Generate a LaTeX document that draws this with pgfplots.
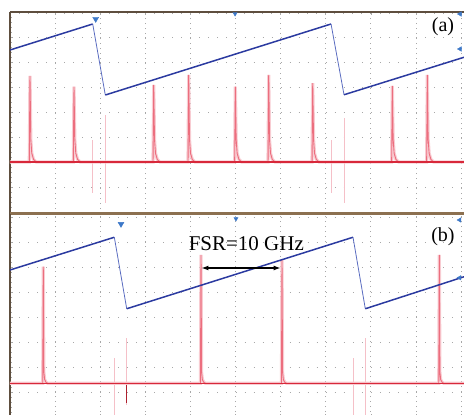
\documentclass[border=0pt]{standalone}
\usepackage{fontspec}
\setmainfont{Liberation Serif}
\usepackage{pgfplots}
\pgfplotsset{compat=1.18}
\usepackage{pgfplotstable}
\usetikzlibrary{arrows.meta}

\definecolor{traceblue}{HTML}{2B3AA0}
\definecolor{fallblue}{HTML}{5A6CC0}
\definecolor{tracered}{HTML}{D8283A}
\definecolor{peakpink}{HTML}{EC6E7E}
\definecolor{halopink}{HTML}{F8CCD2}
\definecolor{spikepink}{HTML}{F5C0C8}
\definecolor{gridgray}{HTML}{A8A8A8}
\definecolor{framebrown}{HTML}{5E4E3E}
\definecolor{dividerbrown}{HTML}{8C7050}
\definecolor{markerblue}{HTML}{3C78C8}

% screen units: 1 div = 45.1 px across, 25 px down
% (a) red trace, cavity transmission
\pgfplotstableread{
x      y
0      2.0
0.428  2.0
0.443  5.44
0.461  2.9
0.483  2.35
0.523  2.1
0.583  2.0
1.404  2.0
1.419  5.01
1.437  2.9
1.459  2.35
1.499  2.1
1.559  2.0
3.171  2.0
3.186  5.08
3.204  2.9
3.226  2.35
3.266  2.1
3.326  2.0
3.947  2.0
3.962  5.48
3.980  2.9
4.002  2.35
4.042  2.1
4.102  2.0
4.981  2.0
4.996  5.01
5.014  2.9
5.036  2.35
5.076  2.1
5.136  2.0
5.721  2.0
5.736  5.48
5.754  2.9
5.776  2.35
5.816  2.1
5.876  2.0
6.697  2.0
6.712  5.15
6.730  2.9
6.752  2.35
6.792  2.1
6.852  2.0
8.462  2.0
8.477  5.04
8.495  2.9
8.517  2.35
8.557  2.1
8.617  2.0
9.238  2.0
9.253  5.48
9.271  2.9
9.293  2.35
9.333  2.1
9.393  2.0
10.07  2.0
}\redA

% (b) red trace
\pgfplotstableread{
x      y
0      1.35
0.726  1.35
0.738  6.01
0.750  1.80
0.768  1.50
0.798  1.39
0.838  1.35
4.223  1.35
4.235  6.48
4.247  1.80
4.265  1.50
4.295  1.39
4.335  1.35
6.019  1.35
6.031  6.28
6.043  1.80
6.061  1.50
6.091  1.39
6.131  1.35
9.507  1.35
9.519  6.48
9.531  1.80
9.549  1.50
9.579  1.39
9.619  1.35
10.07  1.35
}\redB

\pgfplotsset{
  screen/.style={
    scale only axis, width=454pt, xmin=0, xmax=10.066,
    xtick={0,...,10}, ytick={0,...,8},
    xticklabels={}, yticklabels={},
    grid=major,
    major x grid style={draw=gridgray, line width=0.7pt, dash pattern=on 0.8pt off 4.2pt},
    major y grid style={draw=gridgray, line width=0.7pt, dash pattern=on 0.8pt off 8.22pt},
    minor x tick num=4, minor y tick num=4,
    tick align=inside, major tick length=3.5pt, minor tick length=2pt,
    every tick/.style={draw=gridgray, line width=0.6pt},
    axis line style={draw=framebrown, line width=1.2pt},
    axis y line*=left,
    clip=false,
  },
  rise/.style={draw=traceblue, line width=1.5pt},
  fall/.style={draw=fallblue, line width=0.8pt},
  halo/.style={draw=halopink, line width=3.2pt},
  trace/.style={draw=peakpink, line width=0.9pt},
  base/.style={draw=tracered, line width=1.3pt},
  spike/.style={draw=spikepink, line width=0.8pt},
  mk/.style={only marks, mark=triangle*, mark size=3.4pt,
    mark options={fill=markerblue, draw=markerblue, rotate=#1}},
}

\begin{document}
\begin{tikzpicture}
\useasboundingbox (0,0) rectangle (464pt,-415pt);
\clip (0,0) rectangle (464pt,-415pt);

% ---------------- (a) ----------------
\begin{axis}[screen, at={(10pt,-12pt)}, anchor=north west,
  height=202pt, ymin=-0.08, ymax=8, axis x line*=top]
\addplot[spike] coordinates {(1.834,2.88) (1.834,0.76)};
\addplot[spike] coordinates {(2.113,3.88) (2.113,0.36)};
\addplot[spike] coordinates {(7.124,2.88) (7.124,0.76)};
\addplot[spike] coordinates {(7.406,3.76) (7.406,0.36)};
\addplot[halo] table {\redA};
\addplot[trace] table {\redA};
\addplot[base] coordinates {(0,2.0) (10.07,2.0)};
\addplot[rise] coordinates {(0,6.48) (1.834,7.52)};
\addplot[fall] coordinates {(1.834,7.52) (2.113,4.68)};
\addplot[rise] coordinates {(2.113,4.68) (7.118,7.52)};
\addplot[fall] coordinates {(7.118,7.52) (7.406,4.69)};
\addplot[rise] coordinates {(7.406,4.69) (10.067,6.19)};
\addplot[mk=180] coordinates {(1.90,7.72)};
\addplot[mk=180, mark size=2.4pt] coordinates {(4.99,7.93)};
\addplot[mk=90, mark size=2.6pt] coordinates {(9.978,7.92) (9.978,6.52)};
\draw[dividerbrown, line width=3pt] (axis cs:0,-0.07) -- (axis cs:10.07,-0.07);
\node[font=\fontsize{20}{20}\selectfont] at (axis cs:9.60,7.40) {(a)};
\end{axis}

% ---------------- (b) ----------------
\begin{axis}[screen, at={(10pt,-214pt)}, anchor=north west,
  height=203pt, ymin=0, ymax=8.12, axis x line*=bottom]
\addplot[spike] coordinates {(2.313,2.36) (2.313,-0.1)};
\addplot[spike] coordinates {(2.572,3.16) (2.572,0.48)};
\addplot[spike] coordinates {(7.605,2.36) (7.605,-0.1)};
\addplot[spike] coordinates {(7.878,3.16) (7.878,-0.1)};
\addplot[halo] table {\redB};
\addplot[trace] table {\redB};
\addplot[base] coordinates {(0,1.35) (10.07,1.35)};
\addplot[draw=tracered!80!black, line width=0.7pt] coordinates {(2.572,1.3) (2.572,0.55)};
\addplot[rise] coordinates {(0,5.88) (2.313,7.19)};
\addplot[fall] coordinates {(2.313,7.19) (2.588,4.33)};
\addplot[rise] coordinates {(2.588,4.33) (7.605,7.19)};
\addplot[fall] coordinates {(7.605,7.19) (7.878,4.33)};
\addplot[rise] coordinates {(7.878,4.33) (10.067,5.61)};
\addplot[mk=180] coordinates {(2.461,7.72)};
\addplot[mk=180, mark size=2.4pt] coordinates {(5.01,7.93)};
\addplot[mk=90, mark size=2.6pt] coordinates {(9.97,7.88) (9.97,5.57)};
\node[font=\fontsize{20}{20}\selectfont] at (axis cs:9.60,7.20) {(b)};
\node[font=\fontsize{21}{21}\selectfont] at (axis cs:5.24,6.93) {FSR=10 GHz};
\draw[{Latex[length=7pt,width=5pt]}-{Latex[length=7pt,width=5pt]}, line width=1.3pt]
  (axis cs:4.245,5.96) -- (axis cs:6.0,5.96);
\end{axis}
\end{tikzpicture}
\end{document}
